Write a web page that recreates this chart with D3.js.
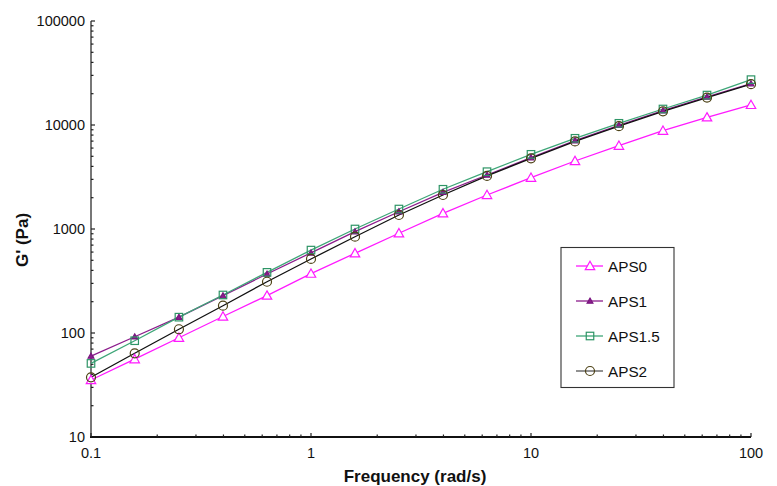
<!DOCTYPE html>
<html>
<head>
<meta charset="utf-8">
<script src="https://cdn.jsdelivr.net/npm/d3@7"></script>
<style>
  html, body { margin: 0; padding: 0; background: #fff; }
  svg text { font-family: "Liberation Sans", Arial, Helvetica, sans-serif; }
</style>
</head>
<body>
<svg id="chart" width="777" height="486"></svg>
<script>
// Angular frequency sweep (rad/s), 5 points per decade
const frequency = [0.1, 0.158, 0.251, 0.398, 0.631, 1, 1.585, 2.51, 3.98, 6.31, 10, 15.85, 25.1, 39.8, 63.1, 100];

// Storage modulus G' (Pa) for each sample
const aps0   = [35.3, 56, 90, 144, 229, 372, 584, 910, 1416, 2124, 3115, 4508, 6324, 8810, 11850, 15600];
const aps1   = [60, 92, 142, 229, 369, 590, 942, 1466, 2254, 3306, 4860, 7080, 9930, 13750, 18600, 25000];
const aps1_5 = [51, 84.3, 142, 232, 383, 627, 1000, 1556, 2410, 3556, 5224, 7450, 10380, 14250, 19400, 27300];
const aps2   = [37.5, 63.8, 108.6, 183, 311, 515, 843, 1364, 2124, 3236, 4786, 6950, 9750, 13550, 18350, 24700];

const seriesNames = ["APS0", "APS1", "APS1.5", "APS2"];
const xTickLabels = ["0.1", "1", "10", "100"];
const yTickLabels = ["10", "100", "1000", "10000", "100000"];

const series = [
  { name: seriesNames[0], values: aps0,   line: "#ff1aff", marker: "#ff1aff", shape: "triangle", size: 9,   fill: "none" },
  { name: seriesNames[1], values: aps1,   line: "#8c1c8c", marker: "#7a1680", shape: "triangle", size: 5.5, fill: "#8c1c8c" },
  { name: seriesNames[2], values: aps1_5, line: "#3ea678", marker: "#2e9566", shape: "square",   size: 7.5, fill: "none" },
  { name: seriesNames[3], values: aps2,   line: "#111111", marker: "#4d4216", shape: "circle",   size: 9,   fill: "none" }
];

const svg = d3.select("#chart");
const plotLeft = 91, plotRight = 751, plotTop = 21, plotBottom = 437;

const x = d3.scaleLog().domain([0.1, 100]).range([plotLeft, plotRight]);
const y = d3.scaleLog().domain([10, 100000]).range([plotBottom, plotTop]);

// minor + major ticks, drawn inward
function logTicks(domain) {
  const ticks = [];
  const lo = Math.round(Math.log10(domain[0])), hi = Math.round(Math.log10(domain[1]));
  for (let e = lo; e <= hi; e++) {
    for (let m = 1; m <= 9; m++) {
      const v = m * Math.pow(10, e);
      if (v > domain[1] * 1.0001) break;
      ticks.push({ v, major: m === 1 });
    }
  }
  return ticks;
}

const axes = svg.append("g");

// y axis
axes.append("line").attr("x1", plotLeft).attr("x2", plotLeft).attr("y1", plotTop).attr("y2", plotBottom)
  .attr("stroke", "#555").attr("stroke-width", 1.6);
logTicks(y.domain()).forEach(t => {
  axes.append("line")
    .attr("x1", plotLeft).attr("x2", plotLeft + (t.major ? 4 : 2.5))
    .attr("y1", y(t.v)).attr("y2", y(t.v))
    .attr("stroke", "#222").attr("stroke-width", 1.2);
});
yTickLabels.forEach(s => {
  axes.append("text").attr("x", 85).attr("y", y(+s) + 5)
    .attr("text-anchor", "end").attr("font-size", 14.5).attr("fill", "#111").text(s);
});

// x axis
axes.append("line").attr("x1", plotLeft - 1).attr("x2", plotRight).attr("y1", plotBottom).attr("y2", plotBottom)
  .attr("stroke", "#111").attr("stroke-width", 1.8);
logTicks(x.domain()).forEach(t => {
  axes.append("line")
    .attr("x1", x(t.v)).attr("x2", x(t.v))
    .attr("y1", plotBottom).attr("y2", plotBottom - (t.major ? 4 : 2.5))
    .attr("stroke", "#222").attr("stroke-width", 1.2);
});
xTickLabels.forEach(s => {
  axes.append("text").attr("x", x(+s)).attr("y", 458)
    .attr("text-anchor", "middle").attr("font-size", 14.5).attr("fill", "#111").text(s);
});

// axis titles
svg.append("text").attr("x", 415).attr("y", 482).attr("text-anchor", "middle")
  .attr("font-size", 17).attr("font-weight", "bold").attr("fill", "#111").text("Frequency (rad/s)");
svg.append("text").attr("transform", "translate(28,240) rotate(-90)").attr("text-anchor", "middle")
  .attr("font-size", 17).attr("font-weight", "bold").attr("fill", "#111").text("G' (Pa)");

// marker drawing
function drawMarker(g, s, cx, cy) {
  const r = s.size / 2;
  if (s.shape === "triangle") {
    g.append("path")
      .attr("d", `M${cx},${cy - r * 1.05}L${cx + r * 1.05},${cy + r * 0.8}L${cx - r * 1.05},${cy + r * 0.8}Z`)
      .attr("fill", s.fill === "none" ? "#fff" : s.fill).attr("stroke", s.marker).attr("stroke-width", 1.2);
  } else if (s.shape === "square") {
    g.append("rect").attr("x", cx - r).attr("y", cy - r).attr("width", s.size).attr("height", s.size)
      .attr("fill", "none").attr("stroke", s.marker).attr("stroke-width", 1.2);
  } else {
    g.append("circle").attr("cx", cx).attr("cy", cy).attr("r", r)
      .attr("fill", "none").attr("stroke", s.marker).attr("stroke-width", 1.2);
  }
}

const line = d3.line().x(d => x(d[0])).y(d => y(d[1]));
const plot = svg.append("g");

series.forEach(s => {
  const pts = frequency.map((f, i) => [f, s.values[i]]);
  plot.append("path").datum(pts).attr("d", line)
    .attr("fill", "none").attr("stroke", s.line).attr("stroke-width", 1.3);
});
series.forEach(s => {
  const g = plot.append("g");
  frequency.forEach((f, i) => drawMarker(g, s, x(f), y(s.values[i])));
});

// legend
const legend = svg.append("g");
legend.append("rect").attr("x", 561).attr("y", 247.5).attr("width", 113).attr("height", 140)
  .attr("fill", "#fff").attr("stroke", "#333").attr("stroke-width", 1.1);
series.forEach((s, i) => {
  const ly = 266 + i * 35;
  legend.append("line").attr("x1", 576).attr("x2", 603).attr("y1", ly).attr("y2", ly)
    .attr("stroke", i === 3 ? "#555" : s.line).attr("stroke-width", 1.3);
  drawMarker(legend, s, 590, ly);
  legend.append("text").attr("x", 608).attr("y", ly + 5.5).attr("font-size", 15.3).attr("fill", "#111").text(s.name);
});
</script>
</body>
</html>
